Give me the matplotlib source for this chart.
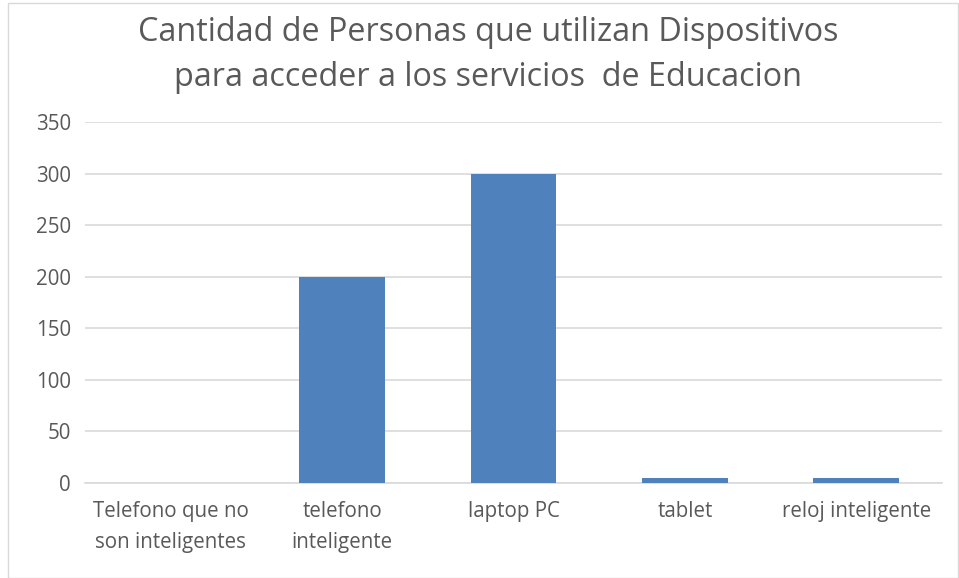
import matplotlib
matplotlib.use("Agg")
import matplotlib.pyplot as plt
from matplotlib.patches import Rectangle

categories = ["Telefono que no\nson inteligentes", "telefono\ninteligente", "laptop PC", "tablet", "reloj inteligente"]
values = [0, 200, 300, 5, 5]
yticks = [0, 50, 100, 150, 200, 250, 300, 350]
title = "Cantidad de Personas que utilizan Dispositivos\npara acceder a los servicios  de Educacion"

plt.rcParams['font.family'] = ['Open Sans', 'DejaVu Sans']
fig = plt.figure(figsize=(9.59, 5.78), dpi=100)
ax = fig.add_axes([85/959, 1 - 483/578, (942-85)/959, (483-122)/578])

ax.bar(range(len(categories)), values, width=0.5, color="#4f81bd", zorder=3)
ax.set_xlim(-0.5, len(categories) - 0.5)
ax.set_ylim(0, 350)
ax.set_yticks(yticks)
ax.yaxis.grid(True, color="#d9d9d9", linewidth=1.2, zorder=0)
ax.set_axisbelow(True)
for s in ["top", "right", "left"]:
    ax.spines[s].set_visible(False)
ax.spines["bottom"].set_color("#d9d9d9")
ax.spines["bottom"].set_linewidth(1.2)
ax.tick_params(axis="both", length=0, colors="#595959", labelsize=14.8)
ax.tick_params(axis="y", pad=10)
ax.tick_params(axis="x", pad=13)
ax.set_xticks(range(len(categories)))
ax.set_xticklabels(categories, linespacing=1.6)

fig.text(488/959, 1 - 55/578, title, ha="center", va="center", fontsize=23.3,
         color="#595959", linespacing=1.45)

fig.patches.append(Rectangle((8/959, 0), 1 - 8/959 - 0.001, 1 - 3/578, transform=fig.transFigure,
                             fill=False, edgecolor="#d9d9d9", linewidth=1))

fig.savefig("out.png", dpi=100)
